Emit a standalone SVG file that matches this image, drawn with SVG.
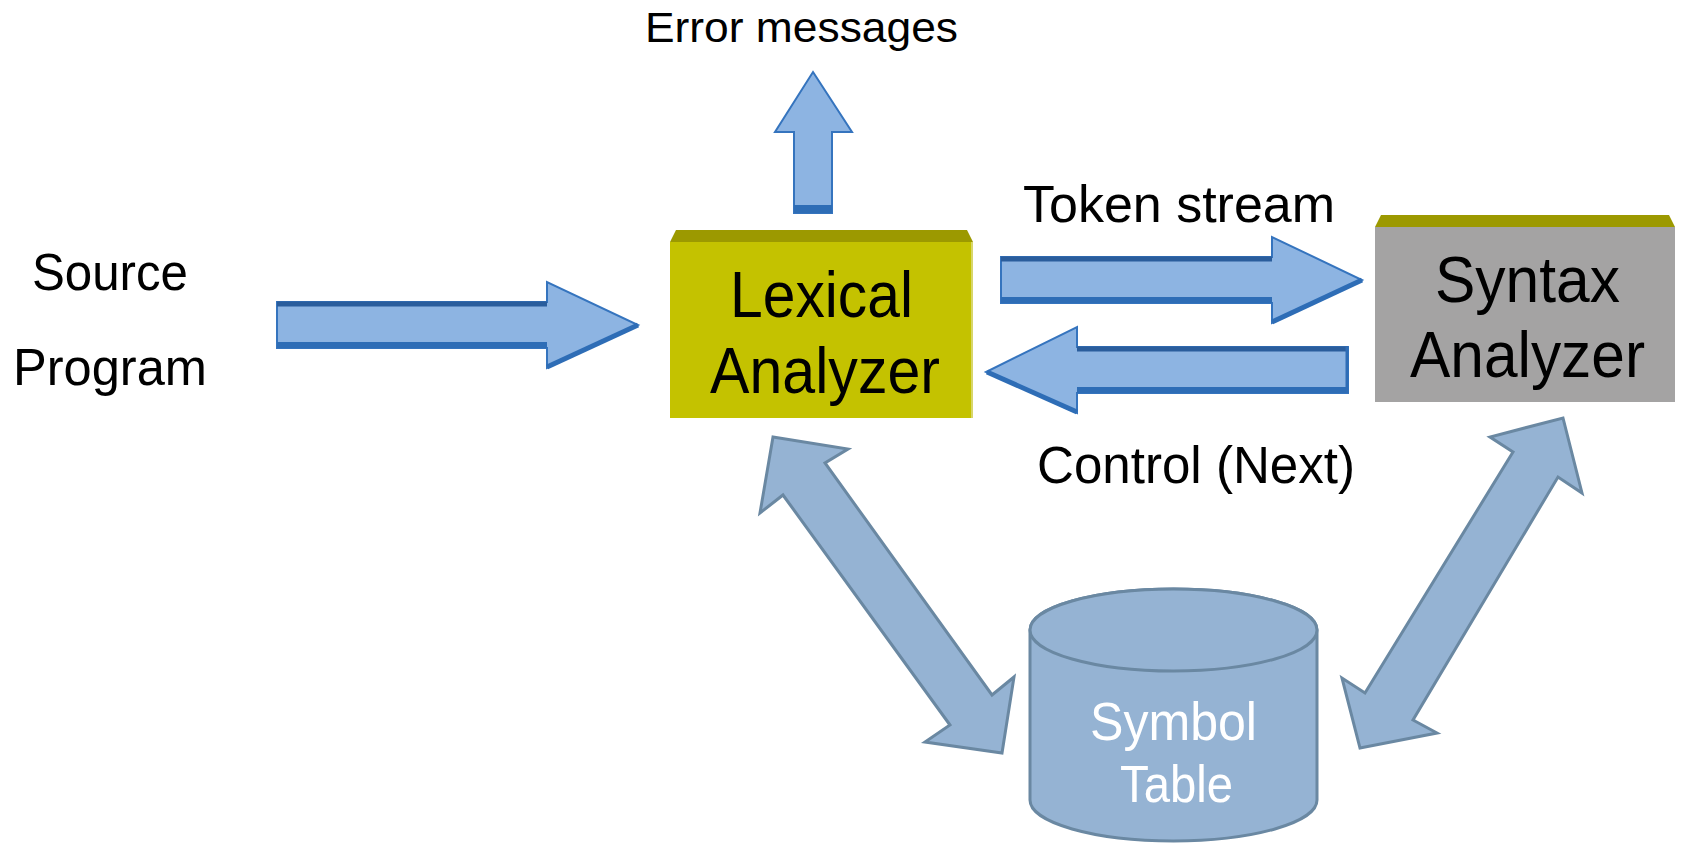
<svg xmlns="http://www.w3.org/2000/svg" width="1682" height="843" viewBox="0 0 1682 843">
<style>
  text { font-family: "Liberation Sans", Arial, sans-serif; fill: #000; }
  .blk { fill: #8DB4E2; stroke: #3574BE; stroke-width: 2; stroke-linejoin: miter; }
  .bandD { stroke: #2A5D9C; fill: none; }
  .bandB { stroke: #2E6DB6; fill: none; }
  .dbl { fill: #95B3D3; stroke: #6A88A2; stroke-width: 3; stroke-linejoin: miter; }
  .cyl { fill: #95B3D3; stroke: #6A88A2; stroke-width: 3; }
  .white { fill: #FFFFFF; }
</style>
<rect x="0" y="0" width="1682" height="843" fill="#FFFFFF"/>

<g id="connectors">
  <!-- Source -> Lexical -->
  <g id="arrow-source">
    <polygon class="blk" points="277,302 547,302 547,282 638,325 547,368 547,348 277,348"/>
    <line class="bandD" x1="277" y1="304" x2="547" y2="304" stroke-width="5"/>
    <line class="bandB" x1="277" y1="345" x2="547" y2="345" stroke-width="6"/>
    <line class="bandB" x1="638" y1="325" x2="547" y2="367" stroke-width="5"/>
  </g>
  <!-- Error messages up arrow -->
  <g id="arrow-error">
    <polygon class="blk" points="813,72 852,132 832,132 832,213 794,213 794,132 775,132"/>
    <line class="bandB" x1="794" y1="209" x2="832" y2="209" stroke-width="8"/>
  </g>
  <!-- Token stream -->
  <g id="arrow-token">
    <polygon class="blk" points="1001,257 1272,257 1272,237 1362,280 1272,323 1272,303 1001,303"/>
    <line class="bandD" x1="1001" y1="259" x2="1272" y2="259" stroke-width="5"/>
    <line class="bandB" x1="1001" y1="300" x2="1272" y2="300" stroke-width="6"/>
    <line class="bandB" x1="1362" y1="280" x2="1272" y2="322" stroke-width="5"/>
  </g>
  <!-- Control (Next) -->
  <g id="arrow-control">
    <polygon class="blk" points="1348,347 1077,347 1077,327 986,372 1077,413 1077,393 1348,393"/>
    <line class="bandD" x1="1077" y1="349" x2="1348" y2="349" stroke-width="5"/>
    <line class="bandB" x1="1077" y1="390" x2="1348" y2="390" stroke-width="6"/>
    <line class="bandB" x1="987" y1="372" x2="1077" y2="412" stroke-width="5"/>
    <line class="bandB" x1="1347" y1="347" x2="1347" y2="393" stroke-width="3"/>
  </g>
  <!-- Lexical <-> Symbol Table -->
  <polygon id="arrow-lex-sym" class="dbl" points="773,437 848,449 825,463 992,695 1014,677 1002,753 925,742 950,725 783,495 760,513"/>
  <!-- Syntax <-> Symbol Table -->
  <polygon id="arrow-syn-sym" class="dbl" points="1563,418 1582,493 1558,477 1413,720 1437,733 1360,748 1342,678 1365,693 1513,452 1490,437"/>
</g>

<g id="label-error">
  <text x="645" y="42" font-size="43" textLength="313" lengthAdjust="spacingAndGlyphs">Error messages</text>
</g>

<g id="node-source">
  <text x="32" y="290" font-size="52" textLength="156" lengthAdjust="spacingAndGlyphs">Source</text>
  <text x="13" y="385" font-size="52" textLength="194" lengthAdjust="spacingAndGlyphs">Program</text>
</g>

<g id="node-lexical">
  <polygon points="676,230 967,230 973,242 670,242" fill="#9C9900"/>
  <rect x="670" y="242" width="303" height="176" fill="#C4C200"/>
  <line x1="972" y1="242" x2="972" y2="418" stroke="#D8D66A" stroke-width="2"/>
  <text x="730" y="317" font-size="65" textLength="183" lengthAdjust="spacingAndGlyphs">Lexical</text>
  <text x="710" y="393" font-size="65" textLength="230" lengthAdjust="spacingAndGlyphs">Analyzer</text>
</g>

<g id="label-token">
  <text x="1023" y="222" font-size="52" textLength="312" lengthAdjust="spacingAndGlyphs">Token stream</text>
</g>

<g id="label-control">
  <text x="1037" y="483" font-size="51" textLength="318" lengthAdjust="spacingAndGlyphs">Control (Next)</text>
</g>

<g id="node-syntax">
  <polygon points="1381,215 1669,215 1675,227 1375,227" fill="#9C9900"/>
  <rect x="1375" y="227" width="300" height="175" fill="#A4A3A3"/>
  <text x="1435" y="302" font-size="65" textLength="185" lengthAdjust="spacingAndGlyphs">Syntax</text>
  <text x="1410" y="377" font-size="65" textLength="235" lengthAdjust="spacingAndGlyphs">Analyzer</text>
</g>

<g id="node-symbol">
  <path class="cyl" d="M1030,630 L1030,800 A143.5,41 0 0 0 1317,800 L1317,630 A143.5,41 0 0 0 1030,630 Z"/>
  <ellipse class="cyl" cx="1173.5" cy="630" rx="143.5" ry="41"/>
  <text class="white" x="1090" y="740" font-size="53" textLength="167" lengthAdjust="spacingAndGlyphs">Symbol</text>
  <text class="white" x="1120" y="802" font-size="52" textLength="113" lengthAdjust="spacingAndGlyphs">Table</text>
</g>
</svg>
